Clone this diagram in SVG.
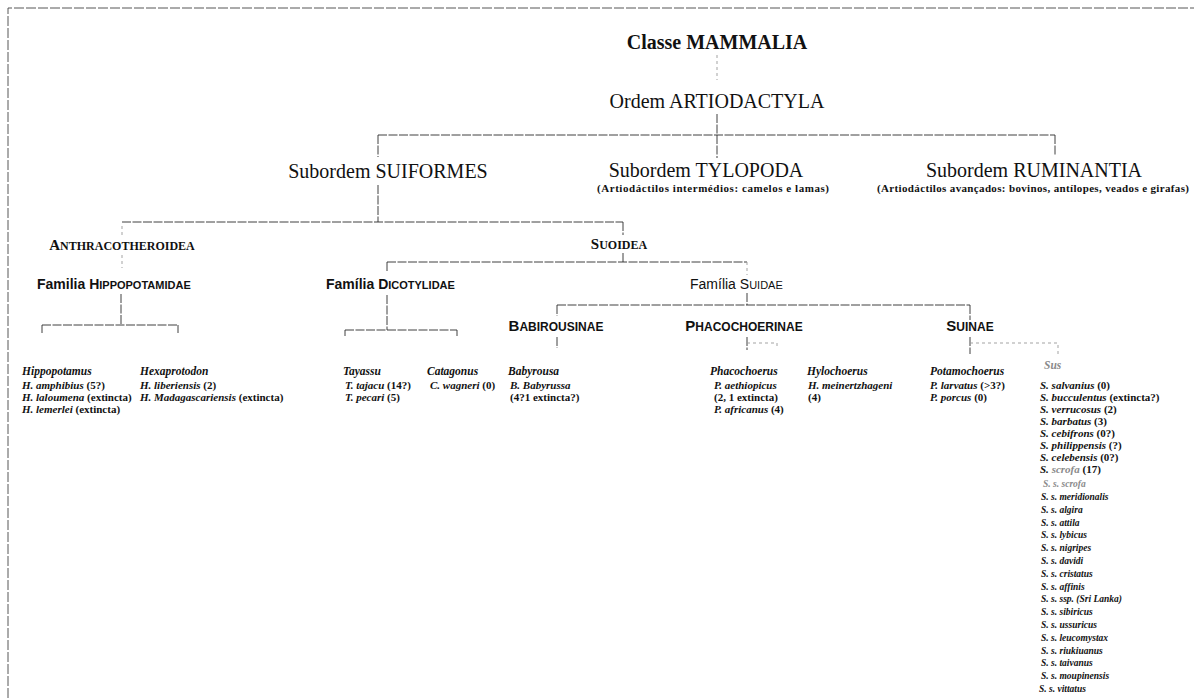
<svg xmlns="http://www.w3.org/2000/svg" width="1194" height="698" viewBox="0 0 1194 698">
<style>
text{fill:#111}
.ser{font-family:"Liberation Serif","Times New Roman",serif}
.sans{font-family:"Liberation Sans",Arial,sans-serif}
.big{font-size:20px}
.b{font-weight:bold}
.i{font-style:italic}
.sub{font-size:11px;font-weight:bold}
.gen{font-size:11.5px;font-weight:bold;font-style:italic}
.sp{font-size:11px;font-weight:bold}
.ssp{font-size:9.5px;font-weight:bold;font-style:italic}
.faint{fill:#8a8a8a}
.c{fill:none;stroke:#2a2a2a;stroke-width:0.9;stroke-dasharray:9 1.5}
.cf{fill:none;stroke:#999;stroke-width:0.9;stroke-dasharray:3 3}
.border{fill:none;stroke:#444;stroke-width:0.9;stroke-dasharray:10 2}
</style>
<rect width="1194" height="698" fill="#fff"/>
<g id="connectors">
<path class="border" d="M8,698 V8 H1194"/>
<path class="cf" d="M717,55 V80"/>
<path class="c" d="M717,114 V158 M378,135 H1055 M378,135 V157 M1055,135 V156"/>
<path class="c" d="M378,185 V222 M122,222 H623"/>
<path class="cf" d="M122,226 V237 M122,255 V268"/>
<path class="c" d="M121,294 V325 M42,325 H178 M42,325 V333 M178,325 V333"/>
<path class="c" d="M623,222 V235 M623,253 V262 M387,262 H747 M387,262 V272"/>
<path class="cf" d="M747,262 V275"/>
<path class="c" d="M387,295 V330 M345,330 H457 M345,330 V336 M457,330 V336"/>
<path class="c" d="M747,293 V305 M557,305 H970 M557,305 V316 M970,305 V320"/>
<path class="c" d="M557,337 V348 M747,337 V350 M970,337 V354"/>
<path class="cf" d="M747,343 H777 V348 M970,343 H1058 V357"/>
</g>
<g id="mammalia"><text class="ser big b" x="717" y="49" text-anchor="middle">Classe MAMMALIA</text></g>
<g id="artiodactyla"><text class="ser big" x="717" y="108" text-anchor="middle">Ordem ARTIODACTYLA</text></g>
<g id="suiformes"><text class="ser big" x="388" y="178" text-anchor="middle">Subordem SUIFORMES</text></g>
<g id="tylopoda">
<text class="ser big" x="706" y="177" text-anchor="middle">Subordem TYLOPODA</text>
<text class="ser sub" x="713" y="192" text-anchor="middle" textLength="232">(Artiodáctilos intermédios: camelos e lamas)</text>
</g>
<g id="ruminantia">
<text class="ser big" x="1034" y="177" text-anchor="middle">Subordem RUMINANTIA</text>
<text class="ser sub" x="1033" y="192" text-anchor="middle" font-size="10.5" textLength="312">(Artiodáctilos avançados: bovinos, antílopes, veados e girafas)</text>
</g>
<g id="anthracotheroidea"><text class="ser b" x="122" y="250" text-anchor="middle"><tspan font-size="15">A</tspan><tspan font-size="12">NTHRACOTHEROIDEA</tspan></text></g>
<g id="suoidea"><text class="ser b" x="619" y="249" text-anchor="middle"><tspan font-size="15">S</tspan><tspan font-size="12">UOIDEA</tspan></text></g>
<g id="hippopotamidae"><text class="sans b" x="37" y="289" font-size="14">Familia H<tspan font-size="11">IPPOPOTAMIDAE</tspan></text></g>
<g id="dicotylidae"><text class="sans b" x="326" y="289" font-size="14">Família D<tspan font-size="11">ICOTYLIDAE</tspan></text></g>
<g id="suidae"><text class="sans" x="690" y="289" font-size="14">Família S<tspan font-size="11">UIDAE</tspan></text></g>
<g id="babirousinae"><text class="sans b" x="556" y="331" text-anchor="middle" font-size="15">B<tspan font-size="12">ABIROUSINAE</tspan></text></g>
<g id="phacochoerinae"><text class="sans b" x="744" y="331" text-anchor="middle" font-size="15">P<tspan font-size="12">HACOCHOERINAE</tspan></text></g>
<g id="suinae"><text class="sans b" x="970" y="331" text-anchor="middle" font-size="15">S<tspan font-size="12">UINAE</tspan></text></g>
<g id="hippopotamus" class="ser">
<text class="gen" x="22" y="375">Hippopotamus</text>
<text class="sp" x="22" y="389"><tspan class="i">H. amphibius</tspan> (5?)</text>
<text class="sp" x="22" y="401"><tspan class="i">H. laloumena</tspan> (extincta)</text>
<text class="sp" x="22" y="413"><tspan class="i">H. lemerlei</tspan> (extincta)</text>
</g>
<g id="hexaprotodon" class="ser">
<text class="gen" x="140" y="375">Hexaprotodon</text>
<text class="sp" x="140" y="389"><tspan class="i">H. liberiensis</tspan> (2)</text>
<text class="sp" x="140" y="401"><tspan class="i">H. Madagascariensis</tspan> (extincta)</text>
</g>
<g id="tayassu" class="ser">
<text class="gen" x="343" y="375">Tayassu</text>
<text class="sp" x="345" y="389"><tspan class="i">T. tajacu</tspan> (14?)</text>
<text class="sp" x="345" y="401"><tspan class="i">T. pecari</tspan> (5)</text>
</g>
<g id="catagonus" class="ser">
<text class="gen" x="427" y="375">Catagonus</text>
<text class="sp" x="430" y="389"><tspan class="i">C. wagneri</tspan> (0)</text>
</g>
<g id="babyrousa" class="ser">
<text class="gen" x="508" y="375">Babyrousa</text>
<text class="sp" x="510" y="389"><tspan class="i">B. Babyrussa</tspan></text>
<text class="sp" x="510" y="401">(4?1 extincta?)</text>
</g>
<g id="phacochoerus" class="ser">
<text class="gen" x="710" y="375">Phacochoerus</text>
<text class="sp" x="714" y="389"><tspan class="i">P. aethiopicus</tspan></text>
<text class="sp" x="714" y="401">(2, 1 extincta)</text>
<text class="sp" x="714" y="413"><tspan class="i">P. africanus</tspan> (4)</text>
</g>
<g id="hylochoerus" class="ser">
<text class="gen" x="807" y="375">Hylochoerus</text>
<text class="sp" x="808" y="389"><tspan class="i">H. meinertzhageni</tspan></text>
<text class="sp" x="808" y="401">(4)</text>
</g>
<g id="potamochoerus" class="ser">
<text class="gen" x="930" y="375">Potamochoerus</text>
<text class="sp" x="930" y="389"><tspan class="i">P. larvatus</tspan> (&gt;3?)</text>
<text class="sp" x="930" y="401"><tspan class="i">P. porcus</tspan> (0)</text>
</g>
<g id="sus" class="ser">
<text class="gen faint" x="1044" y="369" font-weight="normal">Sus</text>
<text class="sp" x="1040" y="389"><tspan class="i">S. salvanius</tspan> (0)</text>
<text class="sp" x="1040" y="401"><tspan class="i">S. bucculentus</tspan> (extincta?)</text>
<text class="sp" x="1040" y="413"><tspan class="i">S. verrucosus</tspan> (2)</text>
<text class="sp" x="1040" y="425"><tspan class="i">S. barbatus</tspan> (3)</text>
<text class="sp" x="1040" y="437"><tspan class="i">S. cebifrons</tspan> (0?)</text>
<text class="sp" x="1040" y="449"><tspan class="i">S. philippensis</tspan> (?)</text>
<text class="sp" x="1040" y="461"><tspan class="i">S. celebensis</tspan> (0?)</text>
<text class="sp" x="1040" y="473"><tspan class="i">S. <tspan class="faint">scrofa</tspan></tspan> (17)</text>
<text class="ssp faint" x="1043" y="487">S. s. scrofa</text>
<text class="ssp" x="1041" y="500">S. s. meridionalis</text>
<text class="ssp" x="1041" y="512.8">S. s. algira</text>
<text class="ssp" x="1041" y="525.6">S. s. attila</text>
<text class="ssp" x="1041" y="538.4">S. s. lybicus</text>
<text class="ssp" x="1041" y="551.2">S. s. nigripes</text>
<text class="ssp" x="1041" y="564">S. s. davidi</text>
<text class="ssp" x="1041" y="576.8">S. s. cristatus</text>
<text class="ssp" x="1041" y="589.6">S. s. affinis</text>
<text class="ssp" x="1041" y="602.4">S. s. ssp. (Sri Lanka)</text>
<text class="ssp" x="1041" y="615.2">S. s. sibiricus</text>
<text class="ssp" x="1041" y="628">S. s. ussuricus</text>
<text class="ssp" x="1041" y="640.8">S. s. leucomystax</text>
<text class="ssp" x="1041" y="653.6">S. s. riukiuanus</text>
<text class="ssp" x="1041" y="666.4">S. s. taivanus</text>
<text class="ssp" x="1041" y="679.2">S. s. moupinensis</text>
<text class="ssp" x="1039" y="692">S. s. vittatus</text>
</g>
</svg>
